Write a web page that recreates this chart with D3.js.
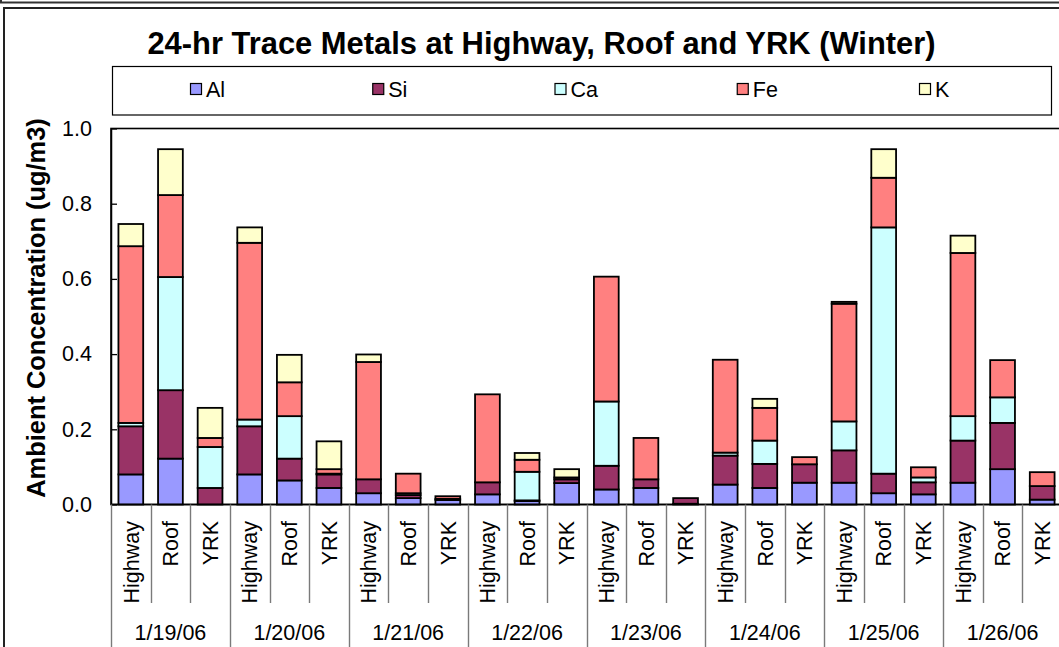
<!DOCTYPE html>
<html>
<head>
<meta charset="utf-8">
<script src="https://cdn.jsdelivr.net/npm/d3@7"></script>
<style>
  html, body { margin: 0; padding: 0; background: #fff; }
  svg { display: block; font-family: "Liberation Sans", Arial, sans-serif; }
</style>
</head>
<body>
<svg id="chart" width="1059" height="647"></svg>
<script>
// Sampling days and sites (three sites per day)
const dates = ["1/19/06", "1/20/06", "1/21/06", "1/22/06", "1/23/06", "1/24/06", "1/25/06", "1/26/06"];
const sites = ["Highway", "Roof", "YRK"];

// Element names, stacking order bottom to top
const elements = ["Al", "Si", "Ca", "Fe", "K"];
const colors = ["#9999FF", "#993366", "#CCFFFF", "#FF8080", "#FFFFCC"];

// 24-hr concentrations (ug/m3), one value per day/site, in date then site order
const al = [0.080, 0.122, 0.000, 0.080, 0.064, 0.044, 0.030, 0.017, 0.012, 0.027, 0.009, 0.057,
            0.040, 0.044, 0.002, 0.053, 0.044, 0.058, 0.058, 0.030, 0.027, 0.058, 0.094, 0.013];
const si = [0.128, 0.182, 0.044, 0.128, 0.058, 0.036, 0.037, 0.008, 0.003, 0.032, 0.002, 0.010,
            0.063, 0.023, 0.015, 0.077, 0.064, 0.049, 0.086, 0.052, 0.032, 0.112, 0.123, 0.036];
const ca = [0.009, 0.301, 0.109, 0.018, 0.113, 0.002, 0.000, 0.005, 0.000, 0.000, 0.076, 0.000,
            0.171, 0.000, 0.000, 0.008, 0.062, 0.000, 0.077, 0.655, 0.013, 0.065, 0.068, 0.000];
const fe = [0.470, 0.218, 0.024, 0.470, 0.090, 0.012, 0.312, 0.052, 0.007, 0.234, 0.032, 0.005,
            0.332, 0.110, 0.000, 0.247, 0.087, 0.019, 0.313, 0.132, 0.027, 0.434, 0.099, 0.037];
const k  = [0.059, 0.122, 0.080, 0.041, 0.073, 0.074, 0.020, 0.000, 0.000, 0.000, 0.018, 0.022,
            0.000, 0.000, 0.000, 0.000, 0.024, 0.000, 0.005, 0.076, 0.000, 0.046, 0.000, 0.000];

const yTicks = [0.0, 0.2, 0.4, 0.6, 0.8, 1.0];

// ---- table for the stack layout ----
const series = [al, si, ca, fe, k];
const rows = [];
dates.forEach((d, di) => sites.forEach((s, si_) => {
  const i = di * 3 + si_;
  const row = { key: d + "|" + s, date: d, site: s };
  elements.forEach((e, ei) => row[e] = series[ei][i]);
  rows.push(row);
}));

const svg = d3.select("#chart");
const FONT = "'Liberation Sans', Arial, sans-serif";

// ---- frames ----
svg.append("rect").attr("x", 1).attr("y", -30).attr("width", 1100).attr("height", 32.5)
  .attr("fill", "none").attr("stroke", "#333").attr("stroke-width", 2);
svg.append("rect").attr("x", 4).attr("y", 8).attr("width", 1100).attr("height", 700)
  .attr("fill", "#fff").attr("stroke", "#222").attr("stroke-width", 2);

// ---- scales ----
const plot = { left: 111, right: 1062, top: 128.5, bottom: 504.5 };
const keys = rows.map(r => r.key);
const xSlot = d3.scaleBand().domain(keys).range([plot.left, plot.right]).padding(0);
const xBar = d3.scaleBand().domain(keys).range([plot.left, plot.right])
  .paddingInner(0.375).paddingOuter(0.1875);
const xDate = d3.scaleBand().domain(dates).range([plot.left, plot.right]).padding(0);
const y = d3.scaleLinear().domain([0, 1]).range([plot.bottom, plot.top]);

// ---- plot area border ----
svg.append("rect").attr("x", plot.left).attr("y", plot.top)
  .attr("width", plot.right - plot.left).attr("height", plot.bottom - plot.top)
  .attr("fill", "#fff").attr("stroke", "#000").attr("stroke-width", 1.6);

// ---- stacked bars ----
const stacked = d3.stack().keys(elements)(rows);
const layers = svg.append("g").selectAll("g").data(stacked).join("g")
  .attr("fill", (d, i) => colors[i]);
layers.selectAll("rect")
  .data(d => d.filter(p => p[1] - p[0] > 0))
  .join("rect")
  .attr("x", p => xBar(p.data.key))
  .attr("width", xBar.bandwidth())
  .attr("y", p => y(p[1]))
  .attr("height", p => y(p[0]) - y(p[1]))
  .attr("stroke", "#000").attr("stroke-width", 1.8);

// ---- y axis ----
const yAxis = d3.axisLeft(y).tickValues(yTicks).tickFormat(d3.format(".1f"))
  .tickSizeInner(-6).tickSizeOuter(0).tickPadding(19);
const gy = svg.append("g").attr("transform", `translate(${plot.left},0)`).call(yAxis);
gy.select(".domain").attr("stroke", "#000").attr("stroke-width", 1.5);
gy.selectAll(".tick line").attr("stroke", "#000").attr("stroke-width", 1.3);
gy.selectAll(".tick text").attr("font-family", FONT).attr("font-size", 21.5).attr("fill", "#000");

// ---- x axis: baseline, separators, site and date labels ----
svg.append("line").attr("x1", plot.left).attr("x2", plot.right)
  .attr("y1", plot.bottom).attr("y2", plot.bottom)
  .attr("stroke", "#000").attr("stroke-width", 1.6);

const sep = svg.append("g");
keys.forEach((kk, i) => {
  const x0 = Math.round(xSlot(kk)) + 0.5;
  sep.append("line").attr("x1", x0).attr("x2", x0)
    .attr("y1", plot.bottom).attr("y2", i % 3 === 0 ? 660 : 603)
    .attr("stroke", "#7a7a7a").attr("stroke-width", 1.4);
});

svg.append("g").selectAll("text").data(rows).join("text")
  .attr("transform", r => `translate(${xSlot(r.key) + xSlot.bandwidth() / 2},521) rotate(-90)`)
  .attr("text-anchor", "end")
  .attr("dy", "0.36em")
  .attr("font-family", FONT).attr("font-size", 21.5).attr("fill", "#000")
  .text(r => r.site);

svg.append("g").selectAll("text").data(dates).join("text")
  .attr("x", d => xDate(d) + xDate.bandwidth() / 2)
  .attr("y", 640)
  .attr("text-anchor", "middle")
  .attr("font-family", FONT).attr("font-size", 21.5).attr("fill", "#000")
  .text(d => d);

// ---- axis title ----
svg.append("text")
  .attr("transform", "translate(45,308) rotate(-90)")
  .attr("text-anchor", "middle")
  .attr("font-family", FONT).attr("font-weight", "bold").attr("font-size", 25.4)
  .attr("fill", "#000")
  .text("Ambient Concentration (ug/m3)");

// ---- chart title ----
svg.append("text")
  .attr("x", 541.5).attr("y", 54)
  .attr("text-anchor", "middle")
  .attr("font-family", FONT).attr("font-weight", "bold").attr("font-size", 30.9)
  .attr("fill", "#000")
  .text("24-hr Trace Metals at Highway, Roof and YRK (Winter)");

// ---- legend ----
svg.append("rect").attr("x", 112.5).attr("y", 66.5).attr("width", 939).attr("height", 48.5)
  .attr("fill", "#fff").attr("stroke", "#000").attr("stroke-width", 1.2);
const legendX = d3.scalePoint().domain(elements).range([190, 919]);
const li = svg.append("g").selectAll("g").data(elements).join("g")
  .attr("transform", e => `translate(${legendX(e)},0)`);
li.append("rect").attr("x", 0.5).attr("y", 83.5).attr("width", 11).attr("height", 11)
  .attr("fill", (e, i) => colors[i]).attr("stroke", "#000").attr("stroke-width", 1.2);
li.append("text").attr("x", 16).attr("y", 97)
  .attr("font-family", FONT).attr("font-size", 21.5).attr("fill", "#000")
  .text(e => e);
</script>
</body>
</html>
